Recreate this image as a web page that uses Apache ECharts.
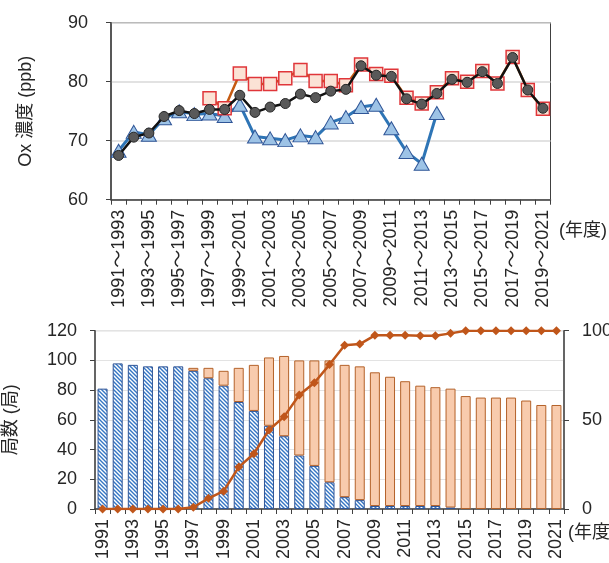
<!DOCTYPE html>
<html>
<head>
<meta charset="utf-8">
<script src="https://cdn.jsdelivr.net/npm/echarts@6/dist/echarts.min.js"></script>
<style>
  html, body { margin: 0; padding: 0; background: #fff; }
  #chart { width: 609px; height: 563px; }
</style>
</head>
<body>
<div id="chart"></div>
<script>
// 3-year moving periods (upper panel)
const periods = [
  '1991～1993', '1992～1994', '1993～1995', '1994～1996', '1995～1997', '1996～1998',
  '1997～1999', '1998～2000', '1999～2001', '2000～2002', '2001～2003', '2002～2004',
  '2003～2005', '2004～2006', '2005～2007', '2006～2008', '2007～2009', '2008～2010',
  '2009～2011', '2010～2012', '2011～2013', '2012～2014', '2013～2015', '2014～2016',
  '2015～2017', '2016～2018', '2017～2019', '2018～2020', '2019～2021'
];

// Ox concentration (ppb): all stations
const oxAll = [
  67.5, 70.6, 71.3, 74.1, 75.1, 74.6, 75.3, 75.3, 77.7, 74.8,
  75.7, 76.3, 77.9, 77.3, 78.4, 78.7, 82.7, 81.1, 80.9, 77.1,
  76.2, 78.0, 80.4, 79.9, 81.7, 79.7, 84.1, 78.6, 75.5
];
// Ox concentration (ppb): new measuring method stations
const oxNew = [
  null, null, null, null, null, null, 77.2, 75.5, 81.4, 79.6,
  79.6, 80.6, 82.0, 80.1, 80.1, 79.4, 82.9, 81.3, 81.0, 77.3,
  76.3, 78.2, 80.6, 80.0, 81.8, 79.7, 84.2, 78.6, 75.4
];
// Ox concentration (ppb): old measuring method stations
const oxOld = [
  68.3, 71.5, 71.0, 73.8, 75.0, 74.5, 74.6, 74.2, 76.1, 70.7,
  70.4, 70.1, 70.9, 70.6, 73.1, 74.0, 75.7, 76.1, 72.1, 68.1,
  66.1, 74.7, null, null, null, null, null, null, null
];

// Fiscal years (lower panel)
const years = [
  '1991', '1992', '1993', '1994', '1995', '1996', '1997', '1998', '1999', '2000',
  '2001', '2002', '2003', '2004', '2005', '2006', '2007', '2008', '2009', '2010',
  '2011', '2012', '2013', '2014', '2015', '2016', '2017', '2018', '2019', '2020', '2021'
];
// Number of stations by method (null = no station of that kind)
const stationsOld = [
  81, 98, 97, 96, 96, 96, 93, 88, 83, 72,
  66, 56, 49, 36, 29, 18, 8, 6, 2, 2,
  2, 2, 2, 1, null, null, null, null, null, null, null
];
const stationsNew = [
  null, null, null, null, null, null, 2, 7, 10, 23,
  31, 46, 54, 64, 71, 82, 89, 90, 90, 87,
  84, 81, 80, 80, 76, 75, 75, 75, 73, 70, 70
];
// Share of new-method stations (%)
const newShare = [
  0, 0, 0, 0, 0, 0, 1, 6, 10, 23.5,
  31, 44.3, 51.8, 63.9, 70.8, 81, 91.8, 92.5, 97.4, 97.4,
  97.4, 97.2, 97.2, 98.5, 100, 100, 100, 100, 100, 100, 100
];

const FONT = '"Liberation Sans", Arial, "Noto Sans CJK JP", sans-serif';
const TXT = '#262626';
const AXIS = '#404040';

// diagonal hatch for old-method bars
function hatchPattern() {
  const c = document.createElement('canvas');
  c.width = 4; c.height = 4;
  const g = c.getContext('2d');
  g.fillStyle = '#ffffff';
  g.fillRect(0, 0, 4, 4);
  g.strokeStyle = '#3576c4';
  g.lineWidth = 1.4;
  g.beginPath();
  g.moveTo(-1, -1); g.lineTo(5, 5);
  g.moveTo(-1, 3); g.lineTo(1, 5);
  g.moveTo(3, -1); g.lineTo(5, 1);
  g.stroke();
  return c;
}

const labelStyle = { color: TXT, fontSize: 18, fontFamily: FONT };

const chart = echarts.init(document.getElementById('chart'), null, { renderer: 'canvas' });

chart.setOption({
  animation: false,
  backgroundColor: '#ffffff',
  textStyle: { fontFamily: FONT },
  grid: [
    { left: 111, top: 22.7, width: 439.5, height: 177, show: true,
      borderColor: AXIS, borderWidth: 1, backgroundColor: 'transparent', outerBoundsMode: 'none' },
    { left: 95, top: 330.7, width: 469, height: 178.3, show: true,
      borderColor: '#a6a6a6', borderWidth: 1, backgroundColor: 'transparent', outerBoundsMode: 'none' }
  ],
  xAxis: [
    {
      type: 'category', gridIndex: 0, data: periods, boundaryGap: true,
      axisLine: { show: true, lineStyle: { color: AXIS, width: 1.5 } },
      axisTick: { show: true, interval: 0, length: 5, lineStyle: { color: AXIS, width: 1 } },
      axisLabel: Object.assign({ interval: 1, rotate: 90, margin: 10 }, labelStyle),
      splitLine: { show: false }
    },
    {
      type: 'category', gridIndex: 1, data: years, boundaryGap: true,
      axisLine: { show: true, lineStyle: { color: AXIS, width: 1.5 } },
      axisTick: { show: true, interval: 0, length: 5, lineStyle: { color: AXIS, width: 1 } },
      axisLabel: Object.assign({ interval: 1, rotate: 90, margin: 10 }, labelStyle),
      splitLine: { show: false }
    }
  ],
  yAxis: [
    {
      type: 'value', gridIndex: 0, min: 60, max: 90, interval: 10,
      name: 'Ox 濃度 (ppb)', nameLocation: 'middle', nameGap: 76, nameRotate: 90,
      nameTextStyle: { color: TXT, fontSize: 18, fontFamily: FONT },
      axisLine: { show: true, lineStyle: { color: AXIS, width: 1.5 } },
      axisTick: { show: true, length: 5, lineStyle: { color: AXIS } },
      axisLabel: Object.assign({ margin: 23 }, labelStyle),
      splitLine: { show: true, lineStyle: { color: '#d9d9d9', width: 1.5 } }
    },
    {
      type: 'value', gridIndex: 1, min: 0, max: 120, interval: 20,
      name: '局数 (局)', nameLocation: 'middle', nameGap: 75, nameRotate: 90,
      nameTextStyle: { color: TXT, fontSize: 18, fontFamily: FONT },
      axisLine: { show: true, lineStyle: { color: AXIS, width: 1.5 } },
      axisTick: { show: true, length: 5, lineStyle: { color: AXIS } },
      axisLabel: Object.assign({ margin: 18 }, labelStyle),
      splitLine: { show: true, lineStyle: { color: '#e3e3e3', width: 1 } }
    },
    {
      type: 'value', gridIndex: 1, position: 'right', min: 0, max: 100, interval: 50,
      axisLine: { show: true, lineStyle: { color: AXIS, width: 1.5 } },
      axisTick: { show: true, length: 5, lineStyle: { color: AXIS } },
      axisLabel: Object.assign({ margin: 18 }, labelStyle),
      splitLine: { show: false }
    }
  ],
  graphic: [
    { type: 'text', left: 559, top: 222, style: { text: '(年度)', fill: TXT, font: '18px ' + FONT } },
    { type: 'text', left: 568, top: 524, style: { text: '(年度)', fill: TXT, font: '18px ' + FONT } }
  ],
  series: [
    {
      name: '旧方式', type: 'line', xAxisIndex: 0, yAxisIndex: 0, data: oxOld,
      symbol: 'triangle', symbolSize: [15, 13], showAllSymbol: true, z: 2,
      lineStyle: { color: '#2e75b6', width: 3 },
      itemStyle: { color: '#9dc3e6', borderColor: '#2f5597', borderWidth: 1 }
    },
    {
      name: '新方式', type: 'line', xAxisIndex: 0, yAxisIndex: 0, data: oxNew,
      symbol: 'rect', symbolSize: 13, showAllSymbol: true, z: 3,
      lineStyle: { color: '#c55a11', width: 2.5 },
      itemStyle: { color: '#fbe2d5', borderColor: '#e0363a', borderWidth: 1.5 }
    },
    {
      name: '全局', type: 'line', xAxisIndex: 0, yAxisIndex: 0, data: oxAll,
      symbol: 'circle', symbolSize: 10, showAllSymbol: true, z: 4,
      lineStyle: { color: '#111111', width: 2.5 },
      itemStyle: { color: '#595959', borderColor: '#262626', borderWidth: 1 }
    },
    {
      name: '旧方式局数', type: 'bar', xAxisIndex: 1, yAxisIndex: 1, stack: 'st',
      data: stationsOld, barWidth: 10,
      itemStyle: { color: { image: hatchPattern(), repeat: 'repeat' }, borderColor: '#2f5597', borderWidth: 1 }
    },
    {
      name: '新方式局数', type: 'bar', xAxisIndex: 1, yAxisIndex: 1, stack: 'st',
      data: stationsNew, barWidth: 10,
      itemStyle: { color: '#f8cbad', borderColor: '#b4622a', borderWidth: 1 }
    },
    {
      name: '新方式割合', type: 'line', xAxisIndex: 1, yAxisIndex: 2, data: newShare,
      symbol: 'diamond', symbolSize: 9, showAllSymbol: true, z: 5,
      lineStyle: { color: '#c0561a', width: 2.5 },
      itemStyle: { color: '#c0561a' }
    }
  ]
});
</script>
</body>
</html>
